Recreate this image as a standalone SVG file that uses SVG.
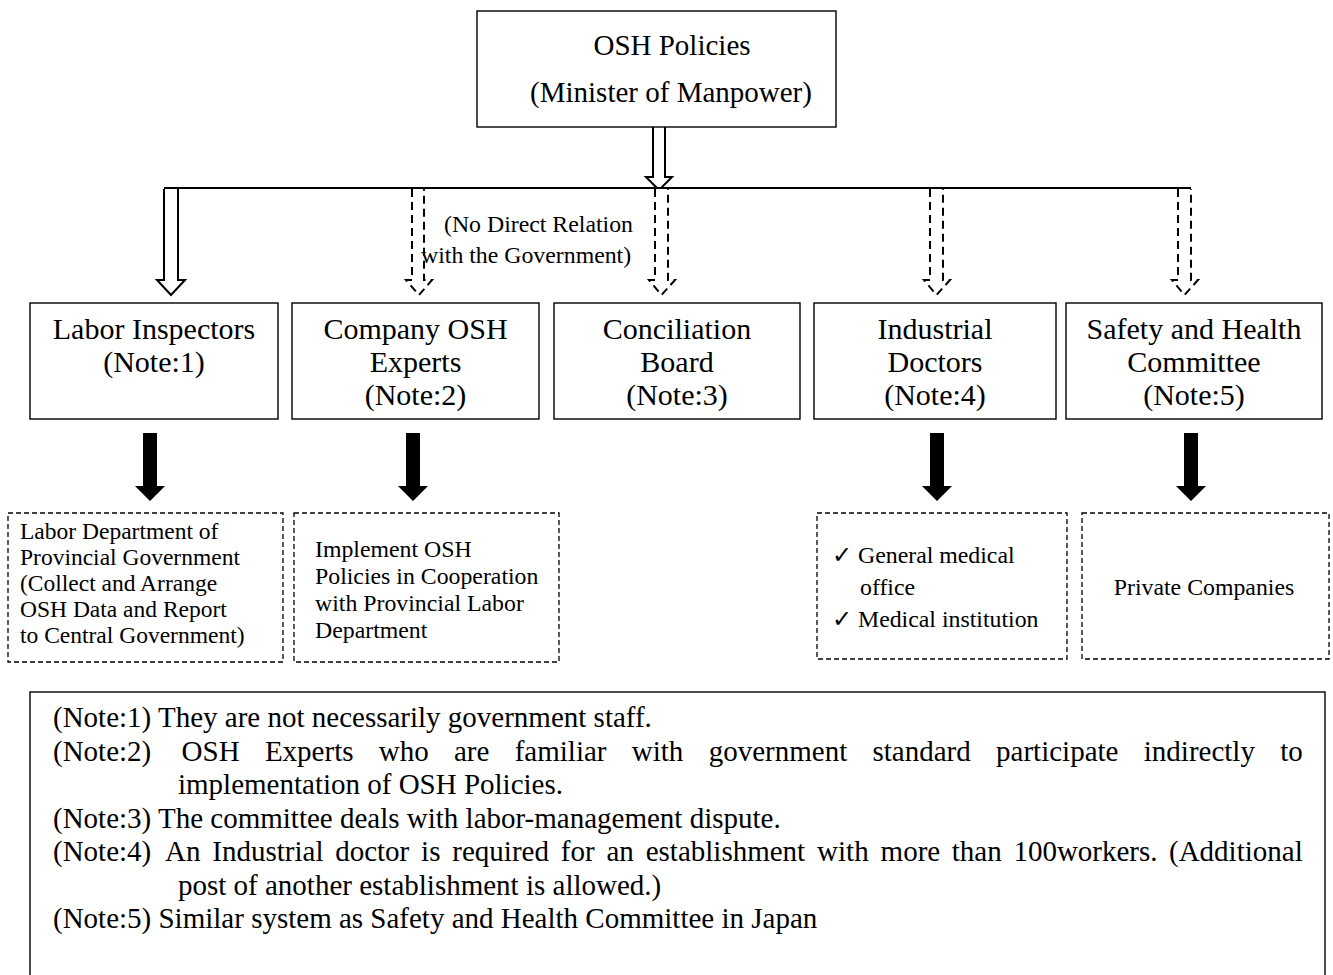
<svg xmlns="http://www.w3.org/2000/svg" width="1333" height="975" viewBox="0 0 1333 975">
  <style>
    .bg { fill: #ffffff; }
    .box { fill: #ffffff; stroke: #000000; stroke-width: 1.4; }
    .dbox { fill: #ffffff; stroke: #000000; stroke-width: 1.3; stroke-dasharray: 5 3; }
    .note { fill: #ffffff; stroke: #000000; stroke-width: 1.4; }
    .line { fill: none; stroke: #000000; stroke-width: 2; }
    .hollow { fill: #ffffff; stroke: #000000; stroke-width: 2; stroke-linejoin: miter; }
    .hollow-dash { fill: #ffffff; stroke: #000000; stroke-width: 2; stroke-dasharray: 8 5; }
    .solid { fill: #000000; stroke: none; }
    text { font-family: "Liberation Serif", "Times New Roman", serif; fill: #000000; }
    .t30 { font-size: 30px; text-anchor: middle; }
    .t29 { font-size: 29px; text-anchor: middle; }
    .ta { font-size: 23.5px; }
    .tb { font-size: 23.8px; }
    .tl { font-size: 23.8px; }
    .tn { font-size: 29px; }
    .chk { font-family: "DejaVu Sans", sans-serif; font-size: 24px; }
  </style>

  <rect class="bg" x="0" y="0" width="1333" height="975"/>

  <!-- connectors -->
  <g id="connectors">
    <!-- policy arrow into the distribution bar -->
    <path class="hollow" d="M653,127 V177 H646 L659,190 L672,177 H665 V127"/>
    <!-- distribution bar -->
    <path class="line" d="M164,188 H1191"/>
    <!-- solid-outline hollow arrow to Labor Inspectors -->
    <path class="hollow" d="M164,189 V280 H157 L171,295 L185,280 H178 V189"/>
    <!-- dashed hollow arrows (no direct relation) -->
    <path class="hollow-dash" d="M412,189 V280 H406 L419,295 L432,280 H424 V189"/>
    <path class="hollow-dash" d="M655,189 V280 H649 L661.5,295 L675,280 H668 V189"/>
    <path class="hollow-dash" d="M930,189 V280 H924 L936.5,295 L950,280 H943 V189"/>
    <path class="hollow-dash" d="M1178,189 V280 H1172 L1184.5,295 L1198,280 H1191 V189"/>
    <!-- solid black arrows to the lower boxes -->
    <path class="solid" d="M143,433 H157 V486 H165 L150,501 L135,486 H143 Z"/>
    <path class="solid" d="M406,433 H420 V486 H428 L413,501 L398,486 H406 Z"/>
    <path class="solid" d="M930,433 H944 V486 H952 L937,501 L922,486 H930 Z"/>
    <path class="solid" d="M1184,433 H1198 V486 H1206 L1191,501 L1176,486 H1184 Z"/>
    <!-- relation label -->
    <text class="tl" x="444" y="232">(No Direct Relation</text>
    <text class="tl" x="421" y="263">with the Government)</text>
  </g>

  <!-- top node -->
  <g id="osh-policies">
    <rect class="box" x="477" y="11" width="359" height="116"/>
    <text class="t29" x="672" y="55">OSH Policies</text>
    <text class="t29" x="671" y="102">(Minister of Manpower)</text>
  </g>

  <!-- second row -->
  <g id="labor-inspectors">
    <rect class="box" x="30" y="303" width="248" height="116"/>
    <text class="t30" x="154" y="339">Labor Inspectors</text>
    <text class="t30" x="154" y="372">(Note:1)</text>
  </g>
  <g id="company-osh-experts">
    <rect class="box" x="292" y="303" width="247" height="116"/>
    <text class="t30" x="415.5" y="339">Company OSH</text>
    <text class="t30" x="415.5" y="372">Experts</text>
    <text class="t30" x="415.5" y="405">(Note:2)</text>
  </g>
  <g id="conciliation-board">
    <rect class="box" x="554" y="303" width="246" height="116"/>
    <text class="t30" x="677" y="339">Conciliation</text>
    <text class="t30" x="677" y="372">Board</text>
    <text class="t30" x="677" y="405">(Note:3)</text>
  </g>
  <g id="industrial-doctors">
    <rect class="box" x="814" y="303" width="242" height="116"/>
    <text class="t30" x="935" y="339">Industrial</text>
    <text class="t30" x="935" y="372">Doctors</text>
    <text class="t30" x="935" y="405">(Note:4)</text>
  </g>
  <g id="safety-health-committee">
    <rect class="box" x="1066" y="303" width="256" height="116"/>
    <text class="t30" x="1194" y="339">Safety and Health</text>
    <text class="t30" x="1194" y="372">Committee</text>
    <text class="t30" x="1194" y="405">(Note:5)</text>
  </g>

  <!-- third row -->
  <g id="labor-department">
    <rect class="dbox" x="8" y="513" width="275" height="149"/>
    <text class="ta" x="20" y="539">Labor Department of</text>
    <text class="ta" x="20" y="565">Provincial Government</text>
    <text class="ta" x="20" y="591">(Collect and Arrange</text>
    <text class="ta" x="20" y="617">OSH Data and Report</text>
    <text class="ta" x="20" y="643">to Central Government)</text>
  </g>
  <g id="implement-osh">
    <rect class="dbox" x="294" y="513" width="265" height="149"/>
    <text class="tb" x="315" y="557">Implement OSH</text>
    <text class="tb" x="315" y="584">Policies in Cooperation</text>
    <text class="tb" x="315" y="611">with Provincial Labor</text>
    <text class="tb" x="315" y="638">Department</text>
  </g>
  <g id="medical">
    <rect class="dbox" x="817" y="513" width="250" height="146"/>
    <text class="chk" x="832" y="563">✓</text>
    <text class="tb" x="858" y="563">General medical</text>
    <text class="tb" x="860" y="595">office</text>
    <text class="chk" x="832" y="627">✓</text>
    <text class="tb" x="858" y="627">Medical institution</text>
  </g>
  <g id="private-companies">
    <rect class="dbox" x="1082" y="513" width="247" height="146"/>
    <text class="tb" x="1204" y="595" text-anchor="middle">Private Companies</text>
  </g>

  <!-- notes -->
  <g id="notes">
    <rect class="note" x="30" y="692" width="1295" height="320"/>
    <text class="tn" x="53" y="727">(Note:1) They are not necessarily government staff.</text>
    <text class="tn" y="761"><tspan x="53">(Note:2)</tspan><tspan x="181.6">OSH</tspan><tspan x="264.9">Experts</tspan><tspan x="378.8">who</tspan><tspan x="454">are</tspan><tspan x="514.7">familiar</tspan><tspan x="631.8">with</tspan><tspan x="708.7">government</tspan><tspan x="872.5">standard</tspan><tspan x="996.1">participate</tspan><tspan x="1143.8">indirectly</tspan><tspan x="1280.3">to</tspan></text>
    <text class="tn" x="178" y="794">implementation of OSH Policies.</text>
    <text class="tn" x="53" y="828">(Note:3) The committee deals with labor-management dispute.</text>
    <text class="tn" y="861"><tspan x="53">(Note:4)</tspan><tspan x="165">An</tspan><tspan x="212.3">Industrial</tspan><tspan x="335.2">doctor</tspan><tspan x="421.1">is</tspan><tspan x="452.3">required</tspan><tspan x="560.8">for</tspan><tspan x="606.5">an</tspan><tspan x="645.7">establishment</tspan><tspan x="817.1">with</tspan><tspan x="880.6">more</tspan><tspan x="951.8">than</tspan><tspan x="1013.4">100workers.</tspan><tspan x="1169">(Additional</tspan></text>
    <text class="tn" x="178" y="895">post of another establishment is allowed.)</text>
    <text class="tn" x="53" y="928">(Note:5) Similar system as Safety and Health Committee in Japan</text>
  </g>
</svg>
